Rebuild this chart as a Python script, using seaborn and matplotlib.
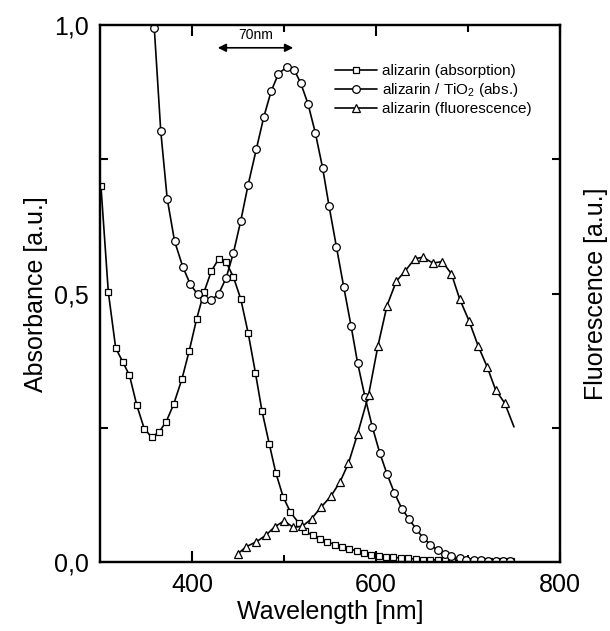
import matplotlib
matplotlib.use("Agg")
import matplotlib.pyplot as plt
import seaborn as sns

# alizarin absorption (squares)
abs_wl = [301, 309, 317, 325, 332, 340, 348, 356, 364, 372, 380, 389, 397, 405, 413,
          421, 429, 437, 445, 453, 461, 469, 476, 484, 491, 499, 507, 516, 523, 531,
          539, 547, 555, 563, 571, 579, 587, 595, 603, 611, 619, 627, 635, 643, 651,
          659, 667, 675, 683, 691, 699, 707, 715, 723, 731, 739, 747]
abs_val = [0.70, 0.503, 0.399, 0.372, 0.348, 0.292, 0.249, 0.233, 0.242, 0.262, 0.294,
           0.341, 0.394, 0.453, 0.503, 0.542, 0.565, 0.559, 0.531, 0.490, 0.427, 0.352,
           0.282, 0.220, 0.167, 0.122, 0.093, 0.073, 0.058, 0.050, 0.044, 0.038, 0.033,
           0.029, 0.025, 0.021, 0.017, 0.014, 0.012, 0.010, 0.009, 0.008, 0.007, 0.006,
           0.005, 0.005, 0.004, 0.004, 0.003, 0.003, 0.003, 0.002, 0.002, 0.002, 0.002,
           0.002, 0.002]

# alizarin / TiO2 absorption (circles)
tio_wl = [351, 359, 366, 373, 381, 390, 398, 406, 413, 421, 429, 437, 445, 453, 461,
          470, 478, 486, 494, 503, 511, 518, 526, 534, 542, 549, 557, 565, 573, 580,
          588, 596, 604, 612, 620, 628, 636, 644, 651, 659, 667, 675, 682, 691, 698,
          706, 714, 722, 730, 738, 746]
tio_val = [1.25, 0.994, 0.803, 0.677, 0.598, 0.550, 0.518, 0.499, 0.490, 0.488, 0.500,
           0.529, 0.576, 0.636, 0.703, 0.770, 0.829, 0.877, 0.910, 0.922, 0.917, 0.893,
           0.854, 0.800, 0.734, 0.663, 0.587, 0.512, 0.439, 0.371, 0.308, 0.252, 0.204,
           0.164, 0.129, 0.100, 0.080, 0.061, 0.046, 0.033, 0.022, 0.015, 0.011, 0.007,
           0.005, 0.004, 0.004, 0.003, 0.003, 0.003, 0.003]

# alizarin fluorescence (triangles)
fl_wl = [450, 459, 470, 480, 490, 500, 510, 520, 530, 540, 551, 561, 570, 580, 592,
         602, 612, 622, 632, 642, 651, 662, 672, 682, 691, 701, 711, 721, 730, 740, 750]
fl_val = [0.016, 0.029, 0.038, 0.050, 0.066, 0.077, 0.065, 0.067, 0.081, 0.102, 0.123,
          0.150, 0.184, 0.239, 0.312, 0.402, 0.478, 0.523, 0.543, 0.565, 0.568, 0.557,
          0.560, 0.537, 0.490, 0.450, 0.403, 0.363, 0.321, 0.296, 0.252]

y_ticks = [0.0, 0.5, 1.0]
y_labels = ["0,0", "0,5", "1,0"]
x_ticks = [400, 600, 800]
x_labels = ["400", "600", "800"]

sns.set_style("ticks", {"axes.edgecolor": "black", "text.color": "black",
                        "axes.labelcolor": "black", "xtick.color": "black",
                        "ytick.color": "black"})
plt.rcParams["font.family"] = ["Liberation Sans", "DejaVu Sans"]
plt.rcParams["mathtext.fontset"] = "custom"
plt.rcParams["mathtext.rm"] = "Liberation Sans"

fig = plt.figure(figsize=(6.1, 6.31), dpi=100)
ax = fig.add_axes([0.164, 0.109, 0.754, 0.851])

mk = dict(color="black", lw=1.2, markerfacecolor="white",
          markeredgecolor="black", markeredgewidth=0.9)
sns.lineplot(x=abs_wl, y=abs_val, marker="s", sort=False, ax=ax,
             label="alizarin (absorption)", markersize=5, **mk)
sns.lineplot(x=tio_wl, y=tio_val, marker="o", sort=False, ax=ax,
             label="alizarin / TiO$_2$ (abs.)", markersize=5.5, **mk)
sns.lineplot(x=fl_wl, y=fl_val, marker="^", sort=False, ax=ax,
             label="alizarin (fluorescence)", markersize=6,
             markevery=list(range(len(fl_wl) - 1)), **mk)

ax.set_xlim(300, 800)
ax.set_ylim(0, 1.0)
ax.set_xticks(x_ticks)
ax.set_xticklabels(x_labels)
ax.set_xticks([500, 700], minor=True)
ax.set_yticks(y_ticks)
ax.set_yticklabels(y_labels)
ax.set_yticks([0.25, 0.75], minor=True)
ax.tick_params(which="both", direction="in", top=True, labelsize=18, width=1.5,
               colors="black")
ax.tick_params(axis="x", which="major", length=8, pad=8)
ax.tick_params(axis="x", which="minor", length=5)
ax.tick_params(axis="y", which="major", length=0, pad=8)
ax.tick_params(axis="y", which="minor", length=6)
for s in ax.spines.values():
    s.set_linewidth(1.6)
    s.set_color("black")
ax.set_xlabel("Wavelength [nm]", fontsize=18, labelpad=2, color="black")
ax.set_ylabel("Absorbance [a.u.]", fontsize=18, labelpad=4, color="black")

ax2 = ax.twinx()
ax2.set_ylim(0, 1.0)
ax2.set_yticks([0.25, 0.5, 0.75])
ax2.set_yticklabels([])
ax2.tick_params(direction="in", length=6, width=1.5, colors="black")
ax2.set_ylabel("Fluorescence [a.u.]", fontsize=18, labelpad=14, color="black")
for s in ax2.spines.values():
    s.set_linewidth(1.6)
    s.set_color("black")

ax.annotate("", xy=(425, 0.958), xytext=(513, 0.958),
            arrowprops=dict(arrowstyle="<|-|>", color="black", lw=1.2, mutation_scale=12))
ax.text(469, 0.968, "70nm", fontsize=10, ha="center", va="bottom", color="black")

ax.legend(loc="upper left", bbox_to_anchor=(0.51, 0.928), frameon=False, fontsize=11,
          handlelength=2.8, handletextpad=0.3, labelspacing=0.2, borderpad=0,
          borderaxespad=0)

fig.savefig("out.png", dpi=100)
